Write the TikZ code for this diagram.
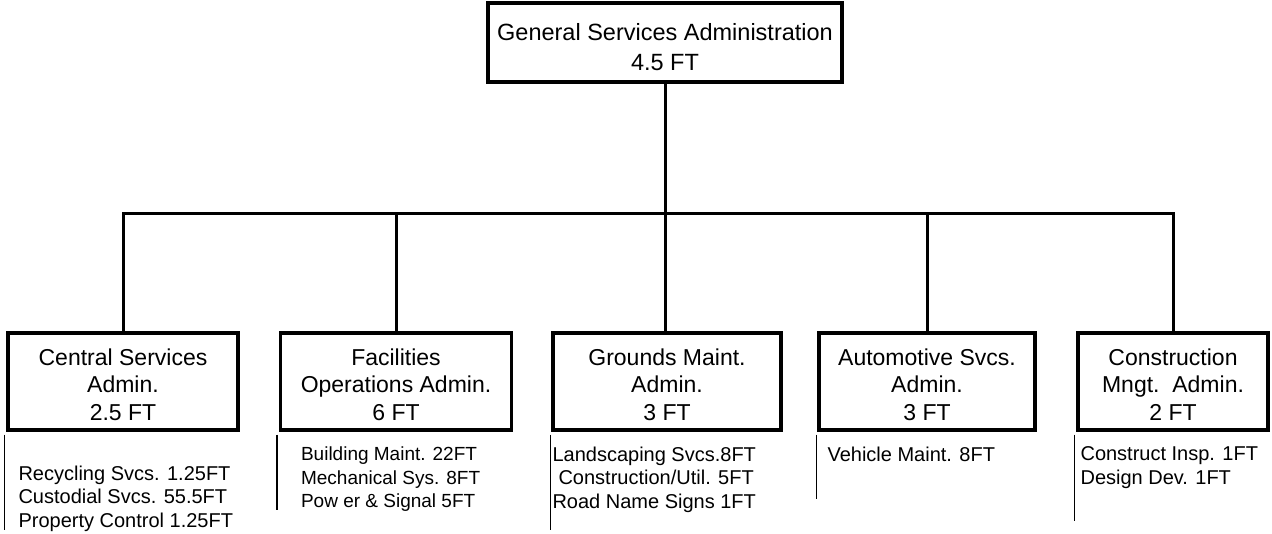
\documentclass[tikz,border=0pt]{standalone}
\usepackage{fontspec}
\setmainfont{Liberation Sans}
\usetikzlibrary{positioning}
\begin{document}
\begin{tikzpicture}[x=1pt,y=1pt,
	unit/.style={draw, line width=3.3pt, align=center, minimum height=97pt, inner sep=0pt, font=\fontsize{23}{27.5}\selectfont, text height=77pt, text depth=0pt},
	link/.style={line width=3pt},
	list/.style={align=left, inner sep=0pt, font=\fontsize{20}{23.5}\selectfont},
	rule/.style={line width=1.3pt}]
	\useasboundingbox (0,0) rectangle (1272,-533);
	\node[unit, minimum width=354pt, minimum height=79pt, font=\fontsize{23.5}{30}\selectfont, text height=56pt] (gsa) at (665,-42.5) {General Services Administration\\4.5 FT};
	\node[unit, minimum width=228pt] (grounds) [below of=gsa, node distance=339pt, xshift=2pt] {Grounds Maint.\\Admin.\\3 FT};
	\node[unit, minimum width=231pt] (facilities) [left of=grounds, node distance=271pt] {Facilities\\Operations Admin.\\6 FT};
	\node[unit, minimum width=230pt] (central) [left of=facilities, node distance=273pt] {Central Services\\Admin.\\2.5 FT};
	\node[unit, minimum width=216pt] (automotive) [right of=grounds, node distance=260pt] {Automotive Svcs.\\Admin.\\3 FT};
	\node[unit, minimum width=190pt] (construction) [right of=automotive, node distance=246pt] {Construction\\Mngt.\ \ Admin.\\2 FT};
	\draw[link] (gsa.south) -- (gsa.south |- grounds.north);
	\draw[link] (central.north) -- ++(0,118) -| (construction.north);
	\draw[link] (facilities.north) -- ++(0,118);
	\draw[link] (automotive.north) -- ++(0,118);
	% staff under each unit
	\node[list] (centrallist) [below right=34pt and 12pt of central.south west] {Recycling Svcs. 1.25FT\\Custodial Svcs. 55.5FT\\Property Control 1.25FT};
	\node[list, font=\fontsize{19}{23.5}\selectfont] (facilitieslist) [below right=15pt and 22pt of facilities.south west] {Building Maint. 22FT\\Mechanical Sys. 8FT\\Pow er \& Signal 5FT};
	\node[list] (groundslist) [below right=15pt and 1pt of grounds.south west] {Landscaping Svcs.8FT\\\hspace{6pt}Construction/Util. 5FT\\Road Name Signs 1FT};
	\node[list] (automotivelist) [below right=15pt and 10pt of automotive.south west] {Vehicle Maint. 8FT};
	\node[list] (constructionlist) [below right=15pt and 4pt of construction.south west] {Construct Insp. 1FT\\Design Dev. 1FT};
	\draw[rule] ([shift={(-2pt,-3pt)}]central.south west) -- ++(0,-95);
	\draw[rule] ([shift={(-2pt,-3pt)}]facilities.south west) -- ++(0,-75);
	\draw[rule] ([shift={(-1pt,-3pt)}]grounds.south west) -- ++(0,-95);
	\draw[rule] ([shift={(-1pt,-3pt)}]automotive.south west) -- ++(0,-64);
	\draw[rule] ([shift={(-2pt,-3pt)}]construction.south west) -- ++(0,-86);
\end{tikzpicture}
\end{document}
